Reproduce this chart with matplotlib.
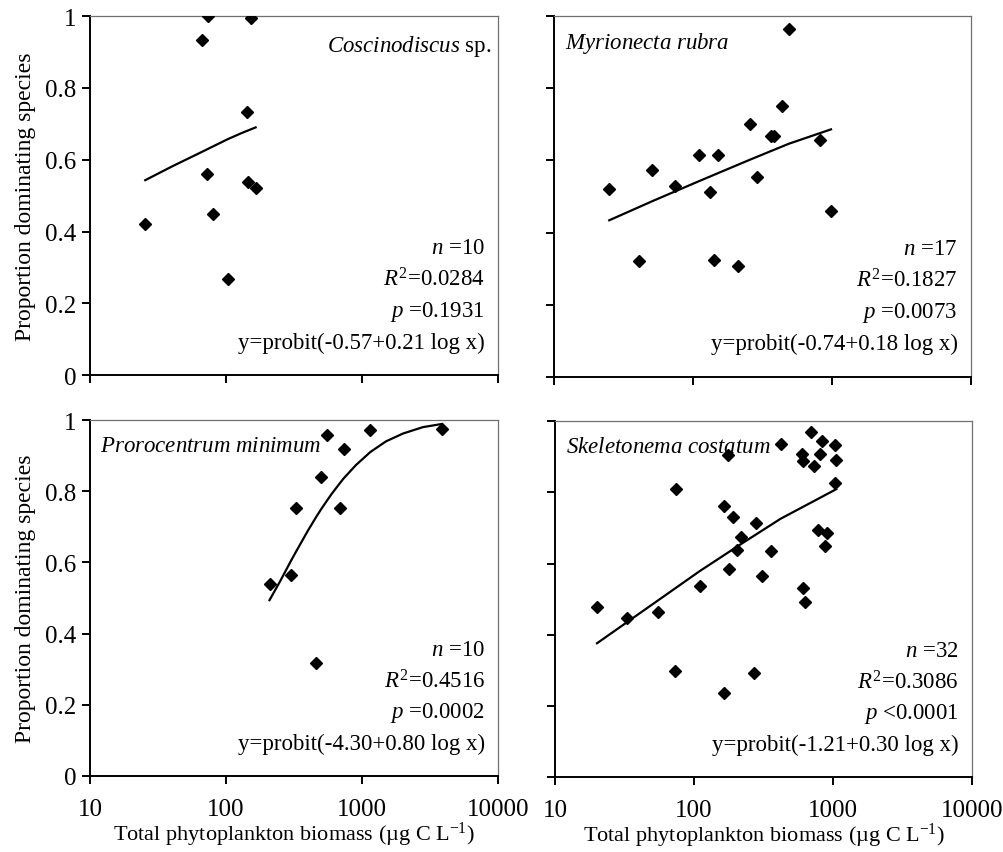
import numpy as np
import matplotlib
matplotlib.use('Agg')
import matplotlib.pyplot as plt

plt.rcParams['font.family'] = ['Liberation Serif', 'DejaVu Serif']
plt.rcParams['mathtext.fontset'] = 'custom'
plt.rcParams['mathtext.rm'] = 'Liberation Serif'
plt.rcParams['mathtext.it'] = 'Liberation Serif:italic'

# Coscinodiscus sp.
cos_x = [25.5, 66.7, 73.8, 72.1, 80.7, 102.8, 141.9, 144.4, 153.5, 165.3]
cos_y = [0.421, 0.934, 1.0, 0.561, 0.449, 0.269, 0.733, 0.538, 0.994, 0.520]
cos_fit_x = [25.5, 40, 66.7, 102.8, 130, 165.3]
cos_fit_y = [0.543, 0.581, 0.622, 0.657, 0.674, 0.690]

# Myrionecta rubra
myr_x = [24.9, 40.9, 50.9, 73.8, 111.2, 133.4, 142.5, 150.6, 209.6, 257,
         287, 362, 383, 434, 488, 820, 984]
myr_y = [0.520, 0.320, 0.572, 0.528, 0.615, 0.513, 0.324, 0.615, 0.308, 0.700,
         0.553, 0.668, 0.668, 0.750, 0.963, 0.656, 0.461]
myr_fit_x = [24.9, 50.9, 111.2, 257, 488, 984]
myr_fit_y = [0.434, 0.487, 0.543, 0.602, 0.646, 0.686]

# Prorocentrum minimum
pro_x = [209, 302, 325, 461, 502, 556, 689, 733, 1151, 3873]
pro_y = [0.539, 0.565, 0.754, 0.318, 0.840, 0.957, 0.754, 0.919, 0.972, 0.976]
pro_fit_x = [209, 250, 302, 325, 400, 461, 502, 556, 600, 689, 733, 900,
             1151, 1500, 2000, 2800, 3873]
pro_fit_y = [0.494, 0.547, 0.606, 0.628, 0.689, 0.728, 0.750, 0.775, 0.793,
             0.823, 0.836, 0.873, 0.910, 0.940, 0.962, 0.980, 0.989]

# Skeletonema costatum
ske_x = [20.0, 32.8, 54.8, 73.0, 74.6, 110, 163, 165, 174, 177, 191, 202, 218,
         270, 281, 310, 360, 420, 594, 604, 611, 624, 689, 736, 778, 800, 827,
         879, 908, 1037, 1055, 1037]
ske_y = [0.478, 0.446, 0.463, 0.298, 0.810, 0.536, 0.236, 0.763, 0.905, 0.584,
         0.731, 0.638, 0.675, 0.292, 0.715, 0.566, 0.635, 0.936, 0.909, 0.887,
         0.532, 0.492, 0.969, 0.875, 0.694, 0.909, 0.944, 0.648, 0.687, 0.933,
         0.891, 0.825]
ske_fit_x = [20.0, 54.8, 110, 218, 420, 1055]
ske_fit_y = [0.376, 0.496, 0.579, 0.655, 0.726, 0.809]

panels = [
    (cos_x, cos_y, cos_fit_x, cos_fit_y, r'$\mathit{Coscinodiscus}$ sp.', 'right',
     ['$n$ =10', '$R^{2}$=0.0284', '$p$ =0.1931', 'y=probit(-0.57+0.21 log x)']),
    (myr_x, myr_y, myr_fit_x, myr_fit_y, r'$\mathit{Myrionecta\ rubra}$', 'left',
     ['$n$ =17', '$R^{2}$=0.1827', '$p$ =0.0073', 'y=probit(-0.74+0.18 log x)']),
    (pro_x, pro_y, pro_fit_x, pro_fit_y, r'$\mathit{Prorocentrum\ minimum}$', 'left',
     ['$n$ =10', '$R^{2}$=0.4516', '$p$ =0.0002', 'y=probit(-4.30+0.80 log x)']),
    (ske_x, ske_y, ske_fit_x, ske_fit_y, r'$\mathit{Skeletonema\ costatum}$', 'left',
     ['$n$ =32', '$R^{2}$=0.3086', '$p$ <0.0001', 'y=probit(-1.21+0.30 log x)']),
]

boxes = [
    [0.0896, 0.559, 0.4064, 0.421],
    [0.552, 0.557, 0.415, 0.423],
    [0.0896, 0.0891, 0.4064, 0.4173],
    [0.553, 0.0879, 0.415, 0.4171],
]

fig = plt.figure(figsize=(10.04, 8.53), dpi=100)
for i, (box, (x, y, fx, fy, name, ha, stats)) in enumerate(zip(boxes, panels)):
    ax = fig.add_axes(box)
    ax.plot(x, y, 'kD', ms=6, zorder=3)
    ax.plot(fx, fy, 'k-', lw=1.6)
    ax.set_xscale('log')
    ax.set_xlim(10, 10000)
    ax.set_ylim(0, 1)
    ax.set_xticks([10, 100, 1000, 10000])
    ax.minorticks_off()
    ax.set_yticks([0, 0.2, 0.4, 0.6, 0.8, 1])
    for s in ('top', 'right'):
        ax.spines[s].set_color('#707070')
        ax.spines[s].set_linewidth(0.9)
    for s in ('left', 'bottom'):
        ax.spines[s].set_color('black')
        ax.spines[s].set_linewidth(1.4)
    ax.tick_params(direction='out', length=6, width=1.4, labelsize=18)
    ax.tick_params(axis='x', pad=10)
    ax.tick_params(axis='y', pad=4)
    if i < 2:
        ax.set_xticklabels([])
    else:
        ax.set_xticklabels(['10', '100', '1000', '10000'])
        ax.set_xlabel('Total phytoplankton biomass (\u00b5g C L$^{-1}$)', fontsize=16, labelpad=0)
    if i % 2 == 1:
        ax.set_yticklabels([])
    else:
        ax.set_yticklabels(['0', '0.2', '0.4', '0.6', '0.8', '1'])
        ax.set_ylabel('Proportion dominating species', fontsize=17, labelpad=6)
    if ha == 'right':
        ax.text(0.984, 0.917, name, transform=ax.transAxes, ha='right', va='center', fontsize=16.5)
    else:
        ax.text(0.025, 0.928, name, transform=ax.transAxes, ha='left', va='center', fontsize=16.5)
    for k, t in enumerate(stats):
        ax.text(0.968, 0.356 - k * 0.088, t, transform=ax.transAxes,
                ha='right', va='center', fontsize=16.5)

fig.savefig('out.png', dpi=100)
